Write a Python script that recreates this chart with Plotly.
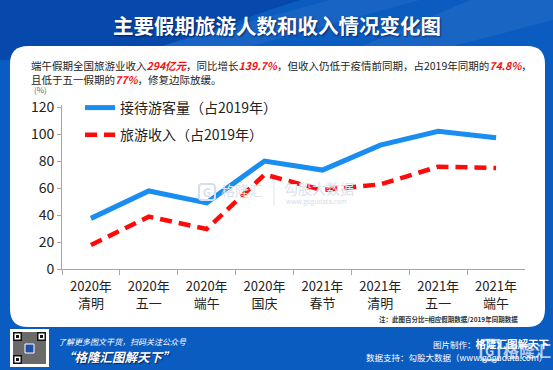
import plotly.graph_objects as go

W, H = 553, 370

categories = ["2020年<br>清明", "2020年<br>五一", "2020年<br>端午", "2020年<br>国庆",
              "2021年<br>春节", "2021年<br>清明", "2021年<br>五一", "2021年<br>端午"]
visitors = [37.5, 57.8, 49.0, 80.0, 73.3, 91.8, 102.0, 97.3]
revenue = [17.8, 38.8, 29.6, 70.0, 58.5, 62.7, 75.8, 74.8]
y_ticks = [0, 20, 40, 60, 80, 100, 120]
series_names = ["接待游客量（占2019年）", "旅游收入（占2019年）"]

FONT = "Noto Sans CJK SC"


def px(x):
    return x / W


def py(y):
    return 1 - y / H


def rrect(x0, y0, x1, y1, r):
    return (f"M {px(x0 + r)},{py(y0)} L {px(x1 - r)},{py(y0)} "
            f"Q {px(x1)},{py(y0)} {px(x1)},{py(y0 + r)} L {px(x1)},{py(y1 - r)} "
            f"Q {px(x1)},{py(y1)} {px(x1 - r)},{py(y1)} L {px(x0 + r)},{py(y1)} "
            f"Q {px(x0)},{py(y1)} {px(x0)},{py(y1 - r)} L {px(x0)},{py(y0 + r)} "
            f"Q {px(x0)},{py(y0)} {px(x0 + r)},{py(y0)} Z")


def poly(points):
    s = "M " + " L ".join(f"{px(a)},{py(b)}" for a, b in points) + " Z"
    return s


fig = go.Figure()
fig.add_trace(go.Scatter(x=categories, y=visitors, mode="lines", name=series_names[0],
                         legendgroup="a",
                         line=dict(color="#1a8df0", width=5)))
fig.add_trace(go.Scatter(x=categories, y=revenue, mode="lines", name=series_names[1],
                         legendgroup="b",
                         line=dict(color="#ff0a0a", width=4.5, dash="12px,7px")))

shapes = []
# header tint / stripes
shapes.append(dict(type="path", xref="paper", yref="paper", layer="below",
                   path=poly([(0, 0), (300, 0), (120, 60), (0, 60)]),
                   fillcolor="#06389a", opacity=0.55, line=dict(width=0)))
shapes.append(dict(type="path", xref="paper", yref="paper", layer="below",
                   path=poly([(330, 0), (420, 0), (200, 60), (110, 60)]),
                   fillcolor="#ffffff", opacity=0.05, line=dict(width=0)))
shapes.append(dict(type="path", xref="paper", yref="paper", layer="below",
                   path=poly([(470, 0), (553, 0), (553, 20), (400, 60), (330, 60)]),
                   fillcolor="#ffffff", opacity=0.06, line=dict(width=0)))
# white panel
shapes.append(dict(type="path", xref="paper", yref="paper", layer="below",
                   path=rrect(10, 46, 545, 327, 18), fillcolor="#ffffff",
                   line=dict(width=0)))
# QR code (decorative)
shapes.append(dict(type="rect", xref="paper", yref="paper", x0=px(10), x1=px(49),
                   y0=py(367), y1=py(329), fillcolor="#ffffff", line=dict(width=0)))
shapes.append(dict(type="rect", xref="paper", yref="paper", x0=px(13), x1=px(46),
                   y0=py(364), y1=py(332), fillcolor="#6a6a6a", line=dict(width=0)))
for (fx, fy) in [(13, 332), (37, 332), (13, 355)]:
    shapes.append(dict(type="rect", xref="paper", yref="paper", x0=px(fx), x1=px(fx + 9),
                       y0=py(fy + 9), y1=py(fy), fillcolor="#111111", line=dict(width=0)))
    shapes.append(dict(type="rect", xref="paper", yref="paper", x0=px(fx + 1.5), x1=px(fx + 7.5),
                       y0=py(fy + 7.5), y1=py(fy + 1.5), fillcolor="#ffffff", line=dict(width=0)))
    shapes.append(dict(type="rect", xref="paper", yref="paper", x0=px(fx + 3), x1=px(fx + 6),
                       y0=py(fy + 6), y1=py(fy + 3), fillcolor="#111111", line=dict(width=0)))
shapes.append(dict(type="rect", xref="paper", yref="paper", x0=px(25), x1=px(34),
                   y0=py(353), y1=py(344), fillcolor="#1f4fa8", line=dict(color="#ffffff", width=1)))
# watermark separator
shapes.append(dict(type="line", xref="paper", yref="paper", x0=px(274), x1=px(274),
                   y0=py(206), y1=py(180), line=dict(color="#dde5ee", width=1)))
shapes.append(dict(type="path", xref="paper", yref="paper",
                   path=rrect(199, 184, 215, 200, 3), fillcolor="rgba(0,0,0,0)",
                   line=dict(color="#d6e0ec", width=2)))
# footer logo watermark
shapes.append(dict(type="path", xref="paper", yref="paper",
                   path=rrect(481, 340, 499, 360, 4), fillcolor="rgba(0,0,0,0)",
                   line=dict(color="rgba(255,255,255,0.7)", width=2.5)))

ann = []
ann.append(dict(text="主要假期旅游人数和收入情况变化图", x=px(276.5), y=py(25), xref="paper", yref="paper",
                showarrow=False, xanchor="center", yanchor="middle",
                font=dict(family=FONT, size=20.5, color="#ffffff", weight="bold",
                          shadow="1px 1px 2px rgba(0,0,40,0.6)")))
R = "<span style='color:#f01010'><b><i>%s</i></b></span>"
sub = ("端午假期全国旅游业收入" + R % "294亿元" + "，同比增长" + R % "139.7%" +
       "，但收入仍低于疫情前同期，占2019年同期的" + R % "74.8%" + "，<br>且低于五一假期的" +
       R % "77%" + "，修复边际放缓。")
ann.append(dict(text=sub, x=px(29), y=py(56), xref="paper", yref="paper", showarrow=False,
                xanchor="left", yanchor="top", align="left",
                font=dict(family=FONT, size=10.5, color="#222222")))
ann.append(dict(text="(%)", x=px(32), y=py(89), xref="paper", yref="paper", showarrow=False,
                xanchor="left", yanchor="middle", font=dict(family=FONT, size=8, color="#666666")))
ann.append(dict(text="注：此图百分比=相应假期数据/2019年同期数据", x=px(520), y=py(319), xref="paper",
                yref="paper", showarrow=False, xanchor="right", yanchor="middle",
                font=dict(family=FONT, size=6.5, color="#333333", weight="bold")))
# watermark texts
ann.append(dict(text="G", x=px(207), y=py(192), xref="paper", yref="paper", showarrow=False,
                xanchor="center", yanchor="middle",
                font=dict(family=FONT, size=11, color="#d6e0ec", weight="bold")))
ann.append(dict(text="格隆汇", x=px(219), y=py(190), xref="paper", yref="paper", showarrow=False,
                xanchor="left", yanchor="middle", font=dict(family=FONT, size=14, color="#d9e2ed")))
ann.append(dict(text="勾股大数据", x=px(282), y=py(188), xref="paper", yref="paper", showarrow=False,
                xanchor="left", yanchor="middle", font=dict(family=FONT, size=14, color="#d9e2ed")))
ann.append(dict(text="www.gogudata.com", x=px(284), y=py(201), xref="paper", yref="paper",
                showarrow=False, xanchor="left", yanchor="middle",
                font=dict(family=FONT, size=6.5, color="#d3dce8")))
# footer texts
ann.append(dict(text="<i>了解更多图文干货，扫码关注公众号</i>", x=px(56), y=py(341), xref="paper",
                yref="paper", showarrow=False, xanchor="left", yanchor="middle",
                font=dict(family=FONT, size=8, color="#ffffff")))
ann.append(dict(text="<b><i>“格隆汇图解天下”</i></b>", x=px(60), y=py(356), xref="paper",
                yref="paper", showarrow=False, xanchor="left", yanchor="middle",
                font=dict(family=FONT, size=12.5, color="#ffffff",
                          shadow="1px 1px 1px #0a1f50")))
ann.append(dict(text="图片制作：<b><span style='font-size:10.5px'>格隆汇图解天下</span></b>",
                x=px(551), y=py(343), xref="paper",
                yref="paper", showarrow=False, xanchor="right", yanchor="middle",
                font=dict(family=FONT, size=8.5, color="#ffffff")))
ann.append(dict(text="数据支持：勾股大数据（www.gogudata.com）", x=px(549), y=py(357),
                xref="paper", yref="paper", showarrow=False, xanchor="right", yanchor="middle",
                font=dict(family=FONT, size=8.5, color="#ffffff")))
ann.append(dict(text="<b>G</b>", x=px(490), y=py(350), xref="paper", yref="paper",
                showarrow=False, xanchor="center", yanchor="middle",
                font=dict(family=FONT, size=13, color="rgba(255,255,255,0.75)")))
ann.append(dict(text="<b>格隆汇</b>", x=px(501), y=py(350), xref="paper", yref="paper",
                showarrow=False, xanchor="left", yanchor="middle",
                font=dict(family=FONT, size=16, color="rgba(255,255,255,0.7)")))

fig.update_layout(
    width=W, height=H,
    margin=dict(l=0, r=0, t=0, b=0, pad=0, autoexpand=False),
    paper_bgcolor="#0b5cc1",
    plot_bgcolor="rgba(0,0,0,0)",
    font=dict(family=FONT, color="#222222"),
    shapes=shapes,
    annotations=ann,
    showlegend=True,
    legend=dict(x=px(80), y=py(92), xanchor="left", yanchor="top",
                bgcolor="rgba(0,0,0,0)", font=dict(family=FONT, size=14, color="#222222"),
                itemwidth=30, tracegroupgap=6, traceorder="grouped"),
    xaxis=dict(domain=[px(62), px(525)], type="category", tickson="boundaries",
               range=[-0.5, len(categories) - 0.5], automargin=False,
               showline=True, linecolor="#a6a6a6", linewidth=1, ticks="outside",
               ticklen=5, tickcolor="#a6a6a6", showgrid=False, zeroline=False,
               ticklabelstandoff=5,
               tickfont=dict(family=FONT, size=13, color="#222222")),
    yaxis=dict(domain=[py(269), py(105)], range=[0, 121.5], tickvals=y_ticks,
               automargin=False,
               showline=True, linecolor="#a6a6a6", linewidth=1, ticks="outside",
               ticklen=4, tickcolor="#a6a6a6", showgrid=False, zeroline=False,
               tickfont=dict(family=FONT, size=14, color="#222222")),
)

fig.write_html("out.html", config={"displayModeBar": False},
               post_script="document.body.style.margin='0';document.body.style.overflow='hidden';")
